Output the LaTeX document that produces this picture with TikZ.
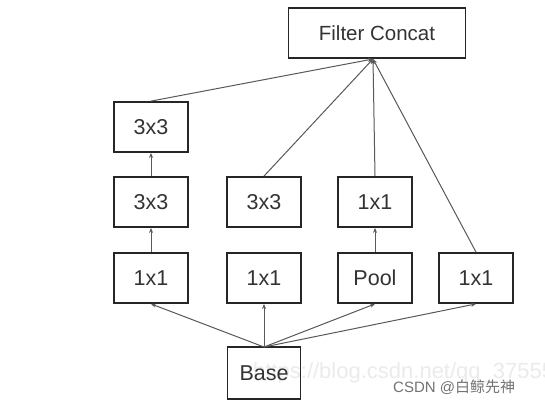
\documentclass[tikz,border=0pt]{standalone}
\usepackage{fontspec}
\setmainfont{Liberation Sans}
\newfontfamily\cjk{Noto Sans CJK SC}
\usetikzlibrary{arrows.meta}
\begin{document}
\begin{tikzpicture}[x=1pt,y=-1pt,
  blk/.style={draw=black!85,line width=1.8pt,minimum width=74pt,minimum height=50pt,inner sep=0pt,font=\fontsize{21.5}{21.5}\selectfont,text=black!80},
  con/.style={draw=black!65,line width=1pt,-{Stealth[length=5pt,width=4pt]}}]
\useasboundingbox[fill=white] (0,0) rectangle (545,407);
\node[anchor=west,text=black!8,font=\fontsize{22}{22}\selectfont,inner sep=0pt] (url) at (253,373) {https://blog.csdn.net/qq\_37555};
\node[blk,minimum width=177pt,font=\fontsize{20.5}{20.5}\selectfont] (fc) at (377,33) {Filter Concat};
\node[blk] (a3) at (151,127) {3x3};
\node[blk] (a2) at (151,202) {3x3};
\node[blk] (a1) at (151,278) {1x1};
\node[blk] (b2) at (264,202) {3x3};
\node[blk] (b1) at (264,278) {1x1};
\node[blk] (c2) at (375,202) {1x1};
\node[blk] (c1) at (375,278) {Pool};
\node[blk] (d1) at (476,278) {1x1};
\node[blk,minimum width=73pt,minimum height=52pt] (base) at (264,373) {Base};
\coordinate (fcin) at (373,59);
\coordinate (bout) at (264,347);
\draw[con] (bout) -- (a1.south);
\draw[con] (bout) -- (b1.south);
\draw[con] (bout) -- (c1.south);
\draw[con] (bout) -- (d1.south);
\draw[con] (a1) -- (a2);
\draw[con] (a2) -- (a3);
\draw[con] (c1) -- (c2);
\draw[con] (a3.north) -- (fcin);
\draw[con] (b2.north) -- (fcin);
\draw[con] (c2.north) -- (fcin);
\draw[con] (d1.north) -- (fcin);
\node[anchor=west,text=black!55,font=\fontsize{15}{15}\selectfont,inner sep=0pt] (wm) at (393,387) {CSDN @{\cjk 白鲸先神}};
\end{tikzpicture}
\end{document}
